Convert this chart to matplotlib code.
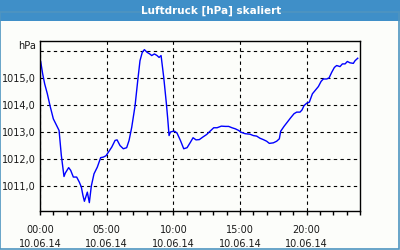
import numpy as np
import matplotlib
matplotlib.use('Agg')
import matplotlib.pyplot as plt
from matplotlib.patches import Rectangle

# Stunden ab 00:00 am 10.06.14 und Luftdruck in hPa
hours = [0.05, 0.2, 0.35, 0.55, 0.75, 1.0, 1.25, 1.43, 1.6, 1.8, 1.9, 2.15, 2.3, 2.5, 2.75,
         2.95, 3.1, 3.22, 3.33, 3.55, 3.7, 3.85, 4.05, 4.3, 4.55, 4.75, 4.95,
         5.38, 5.63, 5.78, 6.0, 6.25, 6.5, 6.68, 6.88, 7.13, 7.33, 7.5, 7.67, 7.83,
         8.03, 8.23, 8.38, 8.58, 8.78, 8.93, 9.08, 9.28, 9.48, 9.58, 9.68, 9.78, 9.98,
         10.1, 10.28, 10.53, 10.78, 11.03, 11.28, 11.48, 11.7, 11.95, 12.2, 12.5, 12.75,
         13.03, 13.28, 13.6, 13.9, 14.15, 14.4, 14.65, 14.9, 15.05,
         15.38, 15.75, 16.0, 16.25, 16.5, 16.75, 17.0, 17.2, 17.5, 17.75, 17.95, 18.05,
         18.3, 18.55, 18.8, 19.05, 19.25, 19.5, 19.65, 19.8, 20.0, 20.2,
         20.43, 20.63, 20.88, 21.08, 21.25, 21.5, 21.68, 21.88, 22.08, 22.25, 22.5,
         22.68, 22.88, 23.05, 23.25, 23.5, 23.63, 23.83]
pressure = [1015.61, 1015.15, 1014.78, 1014.41, 1013.97, 1013.48, 1013.23, 1013.05, 1012.12,
            1011.34, 1011.47, 1011.67, 1011.57, 1011.32, 1011.32, 1011.13, 1010.95, 1010.64,
            1010.42, 1010.76, 1010.37, 1010.99, 1011.44, 1011.69, 1012.04, 1012.06, 1012.11,
            1012.43, 1012.68, 1012.7, 1012.49, 1012.37, 1012.41, 1012.68, 1013.17, 1013.97,
            1014.9, 1015.64, 1015.95, 1016.05, 1015.95, 1015.89, 1015.83, 1015.89, 1015.83,
            1015.76, 1015.83, 1015.02, 1014.04, 1013.48, 1012.86, 1012.99, 1013.02,
            1013.02, 1012.95, 1012.68, 1012.37, 1012.41, 1012.61, 1012.78, 1012.7, 1012.71,
            1012.8, 1012.9, 1013.02, 1013.15, 1013.15, 1013.21, 1013.2, 1013.2, 1013.15,
            1013.11, 1013.05, 1012.99,
            1012.93, 1012.91, 1012.86, 1012.84, 1012.76, 1012.71, 1012.65, 1012.57, 1012.59,
            1012.65, 1012.74, 1013.02, 1013.2, 1013.36, 1013.52, 1013.67, 1013.73, 1013.73,
            1013.81, 1013.97, 1014.06, 1014.1,
            1014.41, 1014.53, 1014.68, 1014.87, 1014.96, 1014.96, 1015.0, 1015.21, 1015.39,
            1015.46, 1015.42, 1015.52, 1015.52, 1015.61, 1015.56, 1015.54, 1015.64, 1015.73]

x_ticks = [0, 5, 10, 15, 20]
x_labels = ['00:00\n10.06.14', '05:00\n10.06.14', '10:00\n10.06.14',
            '15:00\n10.06.14', '20:00\n10.06.14']
y_ticks = [1011, 1012, 1013, 1014, 1015]
y_labels = ['1011,0', '1012,0', '1013,0', '1014,0', '1015,0']
title = 'Luftdruck [hPa] skaliert'

bar_blue = '#3f8fc8'
frame_blue = '#4f95c0'
bg = '#fcfdfa'
txt = '#1a1a1a'

fig = plt.figure(figsize=(4, 2.5), dpi=100)
fig.patch.set_facecolor(bg)

# Titelleiste und Rahmen
fig.add_artist(Rectangle((0, 0.916), 1, 0.084, transform=fig.transFigure,
                         facecolor=bar_blue, edgecolor='none'))
fig.add_artist(Rectangle((0.0012, 0.003), 0.9955, 0.95, transform=fig.transFigure,
                         facecolor='none', edgecolor=frame_blue, linewidth=1.2))
fig.text(0.529, 0.958, title, color='white', fontsize=7.5, fontweight='bold',
         family='DejaVu Sans', ha='center', va='center')

ax = fig.add_axes([0.1, 0.156, 0.8, 0.68])
ax.set_facecolor(bg)
ax.plot(hours, pressure, color='#0000ff', linewidth=1.0)

ax.set_xlim(0, 24)
ax.set_ylim(1010.06, 1016.37)

ax.set_xticks(x_ticks)
ax.set_xticklabels(x_labels, fontsize=7, color=txt, linespacing=1.55)
ax.set_xticks(range(0, 25), minor=True)
ax.tick_params(axis='x', which='both', direction='out', length=3, width=1,
               pad=7, color='black')

ax.set_yticks(y_ticks + [1016])
ax.set_yticklabels(y_labels + [''], fontsize=7, color=txt)
ax.tick_params(axis='y', length=0, pad=3)

ax.text(-0.012, 0.972, 'hPa', transform=ax.transAxes, ha='right', va='center',
        fontsize=7, color=txt)

ax.grid(True, which='major', color='black', linestyle=(0, (3, 3)), linewidth=0.8)
for s in ax.spines.values():
    s.set_linewidth(1.0)
    s.set_color('black')

fig.savefig('out.png', dpi=100, facecolor=bg)
